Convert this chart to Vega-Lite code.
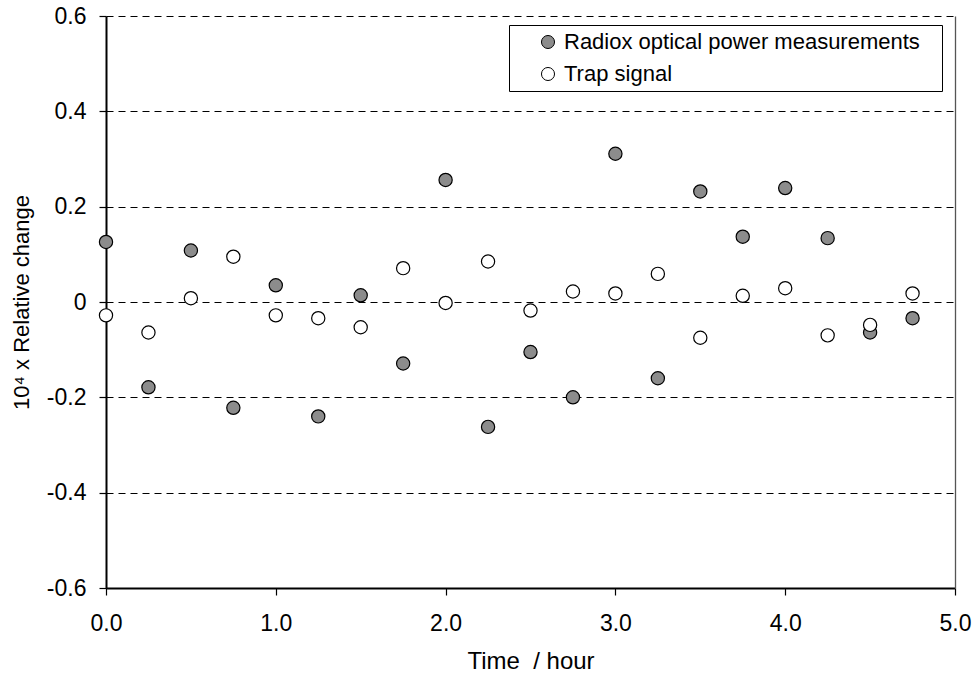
{
  "$schema": "https://vega.github.io/schema/vega-lite/v6.json",
  "width": 849,
  "height": 572,
  "autosize": {"type": "none"},
  "padding": {"left": 106, "top": 16, "right": 18, "bottom": 89},
  "background": "white",
  "config": {"view": {"stroke": null}, "font": "Liberation Sans", "axis": {"domain": true, "ticks": true}},
  "data": {
    "values": [
      {"time": 0.0, "value": 0.126, "series": "Radiox optical power measurements"},
      {"time": 0.25, "value": -0.179, "series": "Radiox optical power measurements"},
      {"time": 0.5, "value": 0.108, "series": "Radiox optical power measurements"},
      {"time": 0.75, "value": -0.222, "series": "Radiox optical power measurements"},
      {"time": 1.0, "value": 0.035, "series": "Radiox optical power measurements"},
      {"time": 1.25, "value": -0.240, "series": "Radiox optical power measurements"},
      {"time": 1.5, "value": 0.014, "series": "Radiox optical power measurements"},
      {"time": 1.75, "value": -0.129, "series": "Radiox optical power measurements"},
      {"time": 2.0, "value": 0.256, "series": "Radiox optical power measurements"},
      {"time": 2.25, "value": -0.262, "series": "Radiox optical power measurements"},
      {"time": 2.5, "value": -0.105, "series": "Radiox optical power measurements"},
      {"time": 2.75, "value": -0.200, "series": "Radiox optical power measurements"},
      {"time": 3.0, "value": 0.311, "series": "Radiox optical power measurements"},
      {"time": 3.25, "value": -0.160, "series": "Radiox optical power measurements"},
      {"time": 3.5, "value": 0.232, "series": "Radiox optical power measurements"},
      {"time": 3.75, "value": 0.137, "series": "Radiox optical power measurements"},
      {"time": 4.0, "value": 0.239, "series": "Radiox optical power measurements"},
      {"time": 4.25, "value": 0.134, "series": "Radiox optical power measurements"},
      {"time": 4.5, "value": -0.064, "series": "Radiox optical power measurements"},
      {"time": 4.75, "value": -0.034, "series": "Radiox optical power measurements"},
      {"time": 0.0, "value": -0.028, "series": "Trap signal"},
      {"time": 0.25, "value": -0.064, "series": "Trap signal"},
      {"time": 0.5, "value": 0.008, "series": "Trap signal"},
      {"time": 0.75, "value": 0.095, "series": "Trap signal"},
      {"time": 1.0, "value": -0.028, "series": "Trap signal"},
      {"time": 1.25, "value": -0.034, "series": "Trap signal"},
      {"time": 1.5, "value": -0.053, "series": "Trap signal"},
      {"time": 1.75, "value": 0.071, "series": "Trap signal"},
      {"time": 2.0, "value": -0.002, "series": "Trap signal"},
      {"time": 2.25, "value": 0.085, "series": "Trap signal"},
      {"time": 2.5, "value": -0.018, "series": "Trap signal"},
      {"time": 2.75, "value": 0.022, "series": "Trap signal"},
      {"time": 3.0, "value": 0.018, "series": "Trap signal"},
      {"time": 3.25, "value": 0.059, "series": "Trap signal"},
      {"time": 3.5, "value": -0.075, "series": "Trap signal"},
      {"time": 3.75, "value": 0.013, "series": "Trap signal"},
      {"time": 4.0, "value": 0.029, "series": "Trap signal"},
      {"time": 4.25, "value": -0.070, "series": "Trap signal"},
      {"time": 4.5, "value": -0.048, "series": "Trap signal"},
      {"time": 4.75, "value": 0.018, "series": "Trap signal"}
    ]
  },
  "layer": [
    {
      "mark": {"type": "point", "filled": true, "stroke": "black", "strokeWidth": 1.2, "size": 175, "opacity": 1, "shape": "circle"},
      "encoding": {
        "x": {
          "field": "time", "type": "quantitative",
          "scale": {"domain": [0, 5], "nice": false, "zero": false},
          "axis": {
            "values": [0, 1, 2, 3, 4, 5], "format": ".1f", "grid": false, "labelFlush": false,
            "domain": true, "ticks": true,
            "domainColor": "black", "domainWidth": 2, "tickColor": "black", "tickSize": 7, "tickWidth": 1.2,
            "labelFont": "Liberation Sans", "labelFontSize": 23, "labelColor": "black", "labelPadding": 17,
            "title": "Time\u00a0 / hour", "titleFont": "Liberation Sans", "titleFontSize": 24, "titleFontWeight": "normal", "titleColor": "black", "titlePadding": 14
          }
        },
        "y": {
          "field": "value", "type": "quantitative",
          "scale": {"domain": [-0.6, 0.6], "nice": false, "zero": false},
          "axis": {
            "values": [-0.6, -0.4, -0.2, 0, 0.2, 0.4, 0.6],
            "labelExpr": "datum.value == 0 ? '0' : (datum.value < 0 ? '-' + format(-datum.value, '.1f') : format(datum.value, '.1f'))",
            "grid": true, "gridDash": [7, 5], "gridColor": "black", "gridWidth": 1, "gridOpacity": 1,
            "domainColor": "black", "domainWidth": 2, "tickColor": "black", "tickSize": 7, "tickWidth": 1.2,
            "labelFont": "Liberation Sans", "labelFontSize": 23, "labelColor": "black", "labelPadding": 13,
            "title": "10⁴ x Relative change", "titleFont": "Liberation Sans", "titleFontSize": 22, "titleFontWeight": "normal", "titleColor": "black", "titlePadding": 13
          }
        },
        "fill": {
          "field": "series", "type": "nominal",
          "scale": {"domain": ["Radiox optical power measurements", "Trap signal"], "range": ["#8c8c8c", "#ffffff"]},
          "legend": {
            "title": null, "orient": "none", "legendX": 403, "legendY": 9,
            "strokeColor": "black", "fillColor": "white", "padding": 6,
            "labelFont": "Liberation Sans", "labelFontSize": 22, "labelColor": "black", "labelLimit": 700,
            "symbolType": "circle", "symbolSize": 170, "symbolStrokeColor": "black", "symbolStrokeWidth": 1,
            "symbolOffset": 22, "labelOffset": 5, "rowPadding": 10,
            "labelExpr": "datum.label + '\u2800'"
          }
        }
      }
    },
    {
      "mark": {"type": "point", "opacity": 0},
      "encoding": {
        "y": {
          "field": "value", "type": "quantitative",
          "axis": {"orient": "right", "domain": true, "domainColor": "#555555", "domainWidth": 1.3, "labels": false, "ticks": false, "grid": false, "title": null}
        }
      }
    }
  ],
  "resolve": {"axis": {"y": "independent"}}
}
